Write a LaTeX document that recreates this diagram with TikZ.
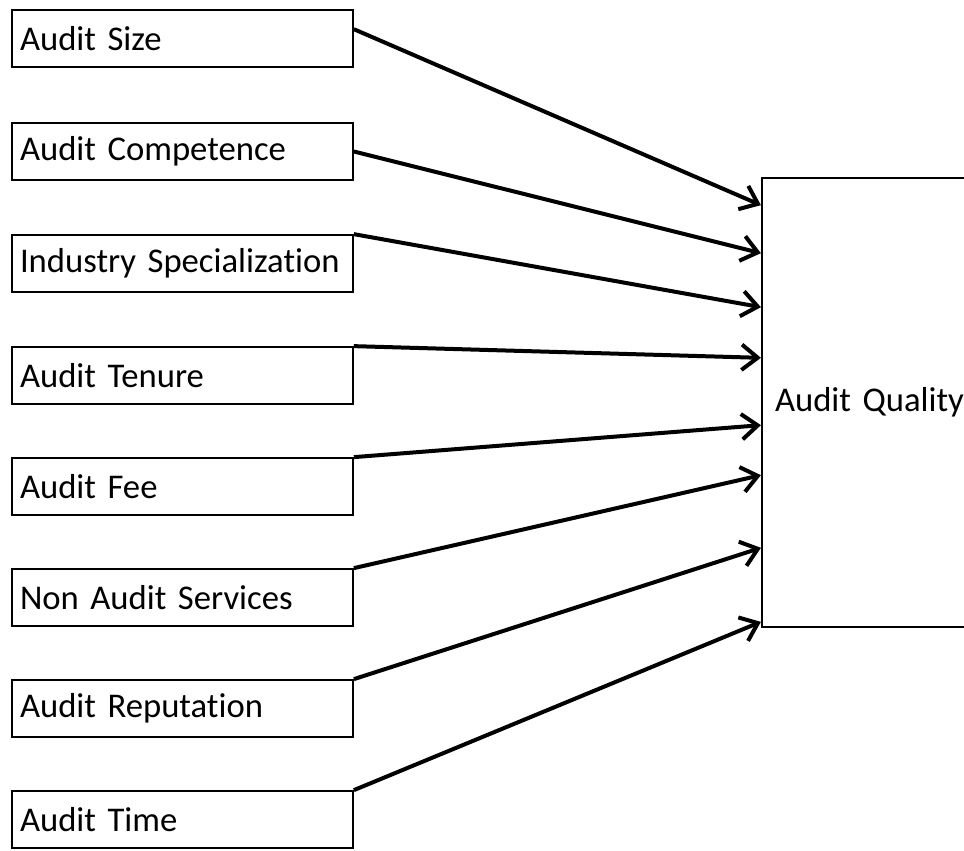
\documentclass[tikz,border=0pt]{standalone}
\usepackage{fontspec}
\setmainfont{Carlito}[Ligatures=NoCommon]
\usetikzlibrary{arrows.meta}

\tikzset{every picture/.style={line width=0.75pt}}
\tikzset{
  factor/.style={draw, line width=1.3pt, minimum width=255.75pt, minimum height=42.75pt,
    text width=243.75pt, inner xsep=6pt, align=left, font=\fontsize{26}{31}\selectfont},
  outcome/.style={draw, line width=1.6pt, minimum width=178.5pt, minimum height=336.75pt,
    text width=159pt, inner xsep=9.75pt, align=left, font=\fontsize{26}{31}\selectfont},
  link/.style={line width=3pt, -{Straight Barb[length=12pt,width=19pt,line width=3pt]}}
}

\begin{document}
\begin{tikzpicture}[x=0.75pt,y=0.75pt,yscale=-1,xscale=1]
    \useasboundingbox (0,0) rectangle (964,850);

    %Shape: Rectangle [factors]
    \node [factor] (size) at (182.5,38.5) {Audit Size};
    \node [factor] (comp) at (182.5,151.5) {Audit Competence};
    \node [factor] (spec) at (182.5,263.5) {Industry Specialization};
    \node [factor] (tenure) at (182.5,375.5) {Audit Tenure};
    \node [factor] (fee) at (182.5,486.5) {Audit Fee};
    \node [factor] (nas) at (182.5,597.5) {Non Audit Services};
    \node [factor] (rep) at (182.5,708.5) {Audit Reputation};
    \node [factor] (time) at (182.5,819.5) {Audit Time};

    %Shape: Rectangle [outcome]
    \node [outcome] (quality) at (881,402.5) {Audit Quality};

    %Straight Lines [links], yscale=-1 so a shift down is positive
    \draw [link] ([yshift=-7pt]size.east) -- ([yshift=-148pt]quality.west);
    \draw [link] (comp.east) -- ([yshift=-112pt]quality.west);
    \draw [link] (spec.north east) -- ([yshift=-71.5pt]quality.west);
    \draw [link] (tenure.north east) -- ([yshift=-33.5pt]quality.west);
    \draw [link] (fee.north east) -- ([yshift=17pt]quality.west);
    \draw [link] (nas.north east) -- ([yshift=54.5pt]quality.west);
    \draw [link] (rep.north east) -- ([yshift=109pt]quality.west);
    \draw [link] (time.north east) -- ([yshift=164.5pt]quality.west);

\end{tikzpicture}
\end{document}
